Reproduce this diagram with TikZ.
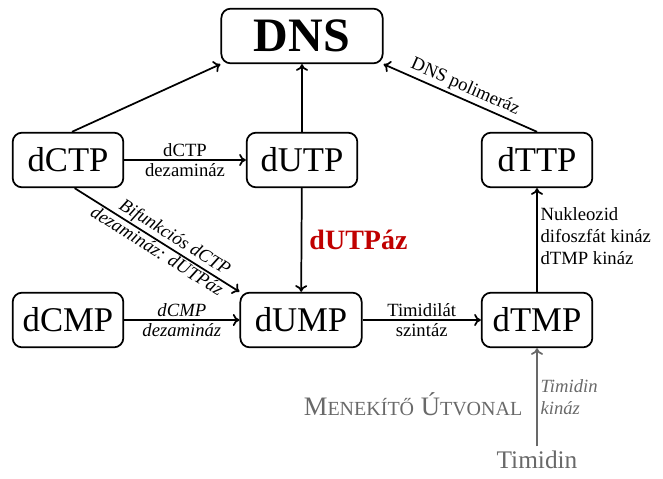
\documentclass[tikz,border=0pt]{standalone}
\usepackage{fontspec}
\setmainfont{Liberation Serif}
\usetikzlibrary{arrows.meta}

\definecolor{enzred}{RGB}{192,0,0}
\definecolor{salvgray}{RGB}{105,105,105}

\tikzset{
  mol/.style={draw, line width=1.3pt, rounded corners=7pt, minimum width=83pt,
    minimum height=41pt, inner sep=2pt, font=\fontsize{26}{28}\selectfont},
  enz/.style={font=\fontsize{14}{16.5}\selectfont, inner sep=2pt},
  enzit/.style={font=\fontsize{14}{16.5}\selectfont\itshape, inner sep=2pt},
  conv/.style={->, line width=1.3pt},
}

\begin{document}
\begin{tikzpicture}[x=0.75pt, y=-0.75pt, >={To[length=5pt,width=9pt]}]
  \useasboundingbox (0,0) rectangle (663,478);

  % Nucleotides
  \node[mol, minimum width=121pt, font=\fontsize{36}{38}\selectfont\bfseries] (DNS) at (302,36) {DNS};
  \node[mol] (dCTP) at (68,160) {dCTP};
  \node[mol] (dUTP) at (302,160) {dUTP};
  \node[mol] (dTTP) at (537,160) {dTTP};
  \node[mol] (dCMP) at (68,320) {dCMP};
  \node[mol, minimum width=91pt] (dUMP) at (301,320) {dUMP};
  \node[mol] (dTMP) at (537,320) {dTMP};
  \node[font=\fontsize{19}{21}\selectfont, text=salvgray] (timidin) at (537,460) {Timidin};

  % Incorporation into DNA
  \draw[conv] ([xshift=3pt]dCTP.north) -- (DNS.south west);
  \draw[conv] (dUTP) -- (DNS);
  \draw[conv] (dTTP.north) -- (DNS.south east)
    node[midway, above, sloped, enz] {DNS polimeráz};

  % De novo route
  \draw[conv] (dCTP) -- (dUTP)
    node[midway, above, enz] {dCTP} node[midway, below, enz] {dezamináz};
  \draw[conv] ([xshift=5pt]dCTP.south) -- (dUMP.north west)
    node[pos=0.57, above, sloped, enzit, inner sep=1pt] {Bifunkciós dCTP}
    node[pos=0.53, below, sloped, enzit, inner sep=1pt] {dezamináz: dUTPáz};
  \draw[conv] (dUTP) -- (dUMP)
    node[midway, right, xshift=2pt, font=\fontsize{21}{23}\selectfont\bfseries, text=enzred] {dUTPáz};
  \draw[conv] (dCMP) -- (dUMP)
    node[midway, above, enzit] {dCMP} node[midway, below, enzit] {dezamináz};
  \draw[conv] (dUMP) -- (dTMP)
    node[midway, above, enz] {Timidilát} node[midway, below, enz] {szintáz};
  \draw[conv] (dTMP) -- (dTTP)
    node[midway, right, enz, align=left, yshift=3pt] {Nukleozid\\difoszfát kináz\\dTMP kináz};

  % Salvage route
  \draw[conv, salvgray] (timidin) -- (dTMP)
    node[midway, right, enzit, text=salvgray, align=left] {Timidin\\kináz};
  \node[anchor=east, text=salvgray, font=\fontsize{20}{22}\selectfont] (salvage) at (527,404)
    {M{\fontsize{15}{17}\selectfont ENEKÍTŐ} Ú{\fontsize{15}{17}\selectfont TVONAL}};
\end{tikzpicture}
\end{document}
